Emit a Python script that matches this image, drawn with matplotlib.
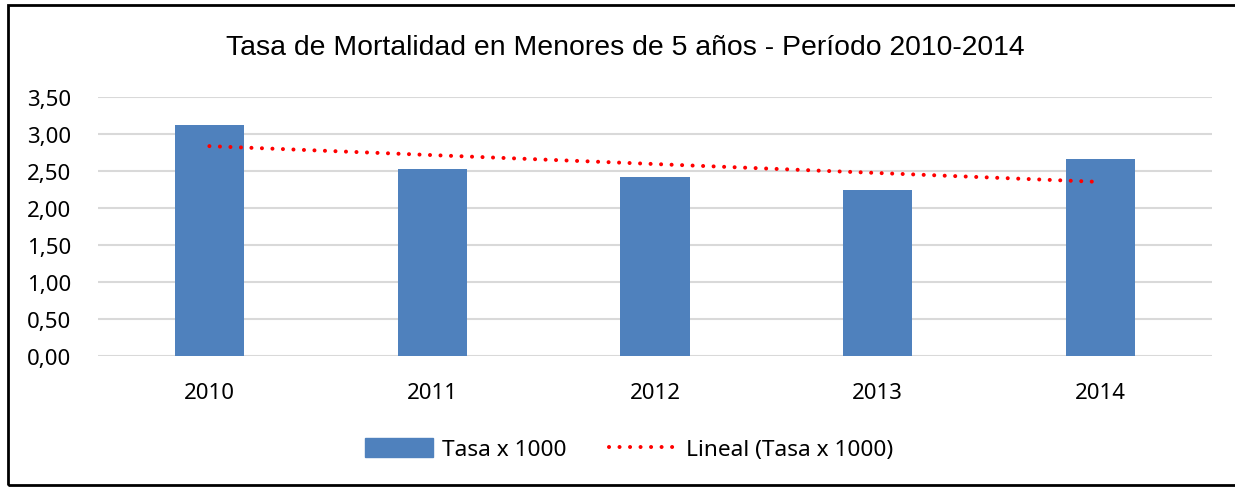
import numpy as np
import matplotlib
matplotlib.use("Agg")
import matplotlib.pyplot as plt
from matplotlib.patches import Rectangle
from matplotlib.lines import Line2D
from matplotlib.ticker import FuncFormatter

# data
years = ["2010", "2011", "2012", "2013", "2014"]
tasa = [3.12, 2.53, 2.42, 2.24, 2.66]

plt.rcParams['font.family'] = ['Noto Sans', 'DejaVu Sans']

W, H = 1235, 489
fig = plt.figure(figsize=(W / 100, H / 100), dpi=100)
ax = fig.add_axes([98 / W, 1 - 357 / H, (1212 - 98) / W, (357 - 98) / H])

dots = (0, (0.01, 2.6))

x = np.arange(len(years))
ax.bar(x, tasa, width=0.31, color="#4f81bd", zorder=3)

# linear trend line (Excel "Lineal")
slope, intercept = np.polyfit(x, tasa, 1)
ax.plot(x, slope * x + intercept, color="red", linestyle=dots,
        linewidth=2.9, dash_capstyle="round", zorder=4)

ax.set_xlim(-0.5, len(years) - 0.5)
ax.set_ylim(0, 3.5)
ax.set_yticks(np.arange(0, 3.51, 0.5))
ax.yaxis.set_major_formatter(FuncFormatter(lambda v, p: f"{v:.2f}".replace(".", ",")))
ax.set_xticks(x)
ax.set_xticklabels(years)
ax.tick_params(axis="both", length=0, labelsize=16, colors="black")
ax.tick_params(axis="x", pad=19)
ax.tick_params(axis="y", pad=19)
ax.grid(axis="y", color="#d9d9d9", linewidth=1.5, zorder=0)
for s in ax.spines.values():
    s.set_visible(False)

fig.text(625 / W, 1 - 48 / H, "Tasa de Mortalidad en Menores de 5 años - Período 2010-2014",
         ha="center", va="center", fontsize=20.4,
         family=["Liberation Sans Narrow", "Liberation Sans", "DejaVu Sans"])

handles = [Rectangle((0, 0), 1, 1, color="#4f81bd"),
           Line2D([0], [0], color="red", linestyle=dots, linewidth=2.9,
                  dash_capstyle="round")]
fig.legend(handles, ["Tasa x 1000", "Lineal (Tasa x 1000)"],
           loc="center", bbox_to_anchor=(629 / W, 1 - 450 / H), ncol=2, frameon=False,
           fontsize=16.3, handlelength=3.0, handleheight=0.9, columnspacing=1.9,
           handletextpad=0.4)

# outer frame
fig.patches.append(Rectangle((8 / W, 3 / H), 1.2, (486 - 6) / H, transform=fig.transFigure,
                             fill=False, edgecolor="black", linewidth=2))

fig.savefig("out.png", dpi=100)
